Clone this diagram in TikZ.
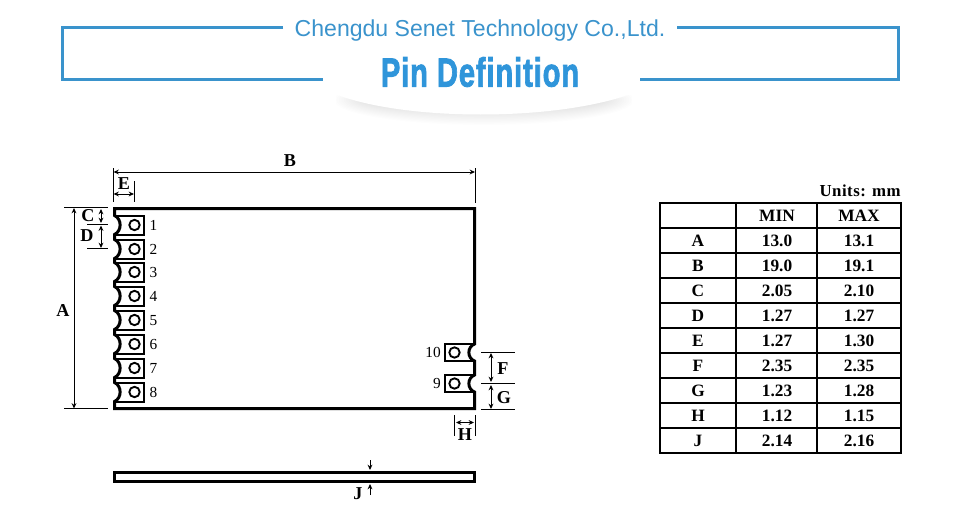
\documentclass[tikz,border=0pt]{standalone}
\usepackage{fontspec}
\setmainfont{Liberation Serif}
\newfontfamily\headfont{Liberation Sans}
\newfontfamily\titlefont[UprightFont=* Bold,FakeBold=2.2,LetterSpace=3]{Liberation Sans}
\usetikzlibrary{arrows.meta,calc}
\definecolor{brand}{HTML}{3A93CC}
\definecolor{brandb}{HTML}{2F95DA}
\tikzset{
  x=0.75pt,y=-0.75pt,
  frameline/.style={draw=brand,line width=2.25pt,line cap=butt,line join=miter},
  outline/.style={draw=black,line width=2.25pt,line join=miter},
  padbox/.style={draw=black,line width=1.5pt,line join=miter},
  hole/.style={draw=black,line width=1.4pt},
  thinline/.style={draw=black,line width=0.7pt},
  dim/.style={draw=black,line width=0.75pt,{Stealth[length=4pt,width=3.6pt]}-{Stealth[length=4pt,width=3.6pt]}},
  dimend/.style={draw=black,line width=0.75pt,-{Stealth[length=4pt,width=3.6pt]}},
  lab/.style={inner sep=0pt,font=\fontsize{13pt}{15pt}\selectfont\bfseries},
  dimlab/.style={inner sep=0pt,font=\fontsize{13.6pt}{15pt}\selectfont\bfseries},
  pinno/.style={inner sep=0pt,font=\fontsize{11.5pt}{13pt}\selectfont},
  gridline/.style={draw=black,line width=1.1pt,line cap=rect},
}
\begin{document}
\begin{tikzpicture}
\useasboundingbox (0,0) rectangle (960,528);
% header frame
\draw[frameline] (283,28) -- (62.5,28) -- (62.5,80) -- (323,80);
\draw[frameline] (677,28) -- (898,28) -- (898,80) -- (640,80);
\node[inner sep=0pt,text=brand,font=\fontsize{17.3pt}{20pt}\headfont] (company) at (480,31) {Chengdu Senet Technology Co.,Ltd.};
% shadow under the banner
\begin{scope}
\clip (336,96) rectangle (632,127);
\foreach \i in {0,...,13}{
  \fill[black,opacity=0.008] (484,100) ellipse [x radius={150-2.4*\i},y radius={25-1.2*\i}];
}
\end{scope}
\fill[white] (330,92) .. controls (400,122) and (560,122) .. (636,92) -- (636,60) -- (330,60) -- cycle;
\node[inner sep=0pt,text=brandb] (title) at (480,72) {\scalebox{0.93}[1.3]{\fontsize{23.5pt}{26pt}\titlefont Pin Definition}};
% module outline
\draw[outline] (114.5,208.5) -- (474.5,208.5)
  -- (474.5,344) .. controls (467,347) and (467,358) .. (474.5,361)
  -- (474.5,375) .. controls (467,378) and (467,389) .. (474.5,392)
  -- (474.5,408.5) -- (114.5,408.5)
  \foreach \c in {392,368,344,320,296,272,249,225}{
    -- (114.5,\c+9.5) .. controls (122,\c+6) and (122,\c-6) .. (114.5,\c-9.5)
  }
  -- cycle;
% pads left
\foreach \c/\n in {225/1,249/2,272/3,296/4,320/5,344/6,368/7,392/8}{
  \draw[padbox] (115,\c-9.5) -- (144,\c-9.5) -- (144,\c+9.5) -- (115,\c+9.5);
  \draw[hole] (134.5,\c) circle (5.2);
  \node[pinno] (pin\n) at (153.5,\c+0.3) {\n};
}
% pads right
\foreach \c/\n/\xx in {352.5/10/433,383.5/9/437}{
  \draw[padbox] (474,\c-8.5) -- (445,\c-8.5) -- (445,\c+8.5) -- (474,\c+8.5);
  \draw[hole] (454.5,\c) circle (5.2);
  \node[pinno] (pin\n) at (\xx,\c) {\n};
}
% thin plate
\draw[outline] (114.5,472.5) rectangle (474.5,481.5);
% coordinates for dimensions
\coordinate (bl) at (113.5,172); \coordinate (br) at (475,172);
\coordinate (el) at (113.5,194); \coordinate (er) at (134,194);
\coordinate (at) at (74,208); \coordinate (ab) at (74,408.5);
\coordinate (ct) at (101,209); \coordinate (cb) at (101,223);
\coordinate (dt) at (101,225.5); \coordinate (db) at (101,248);
\coordinate (ft) at (491,353); \coordinate (fb) at (491,382);
\coordinate (gt) at (491,385); \coordinate (gb) at (491,409);
\coordinate (hl) at (456,422.5); \coordinate (hr) at (474,422.5);
% extension lines
\draw[thinline] (113.5,168) -- (113.5,202);
\draw[thinline] (475,168) -- (475,203);
\draw[thinline] (134,181) -- (134,202);
\draw[thinline] (64,207.5) -- (108,207.5);
\draw[thinline] (64,408.5) -- (108,408.5);
\draw[thinline] (87,224) -- (108,224);
\draw[thinline] (87,248.5) -- (108,248.5);
\draw[thinline] (481,352.5) -- (515,352.5);
\draw[thinline] (481,383.5) -- (515,383.5);
\draw[thinline] (481,409.5) -- (515,409.5);
\draw[thinline] (454.5,415) -- (454.5,436);
\draw[thinline] (475,415) -- (475,436);
% dimension arrows
\draw[dim] (bl) -- (br);
\draw[dim] (el) -- (er);
\draw[dim] (at) -- (ab);
\draw[dim] (ct) -- (cb);
\draw[dim] (dt) -- (db);
\draw[dim] (ft) -- (fb);
\draw[dim] (gt) -- (gb);
\draw[dim] (hl) -- (hr);
\coordinate (jd0) at (370,460); \coordinate (jd1) at (370,470);
\coordinate (ju0) at (370,495); \coordinate (ju1) at (370,484);
\draw[dimend] (jd0) -- (jd1);
\draw[dimend] (ju0) -- (ju1);
% dimension labels
\node[dimlab] (lA) at (63,311) {A};
\node[dimlab] (lB) at (290,160.5) {B};
\node[dimlab] (lC) at (88,216) {C};
\node[dimlab] (lD) at (87,236) {D};
\node[dimlab] (lE) at (124,184) {E};
\node[dimlab] (lF) at (503,368.5) {F};
\node[dimlab] (lG) at (504,397.5) {G};
\node[dimlab] (lH) at (465,435) {H};
\node[dimlab] (lJ) at (358,494) {J};
% table
\node[lab,anchor=east,font=\fontsize{12.6pt}{15pt}\selectfont\bfseries\addfontfeature{LetterSpace=3}] (units) at (901,190.5) {Units: mm};
\foreach \yy in {203,228,253,278,303,328,353,378,403,428,453}{
  \draw[gridline] (660,\yy) -- (901,\yy);
}
\foreach \xx in {660,736,817,901}{
  \draw[gridline] (\xx,203) -- (\xx,453);
}
\node[lab] (hmin) at (777,216) {MIN};
\node[lab] (hmax) at (859,216) {MAX};
\foreach \r/\a/\b [count=\k from 0] in {A/13.0/13.1,B/19.0/19.1,C/2.05/2.10,D/1.27/1.27,E/1.27/1.30,F/2.35/2.35,G/1.23/1.28,H/1.12/1.15,J/2.14/2.16}{
  \node[lab] (r\r) at (698,{241+25*\k}) {\r};
  \node[lab] (mi\r) at (777,{241+25*\k}) {\a};
  \node[lab] (ma\r) at (859,{241+25*\k}) {\b};
}
\end{tikzpicture}
\end{document}
